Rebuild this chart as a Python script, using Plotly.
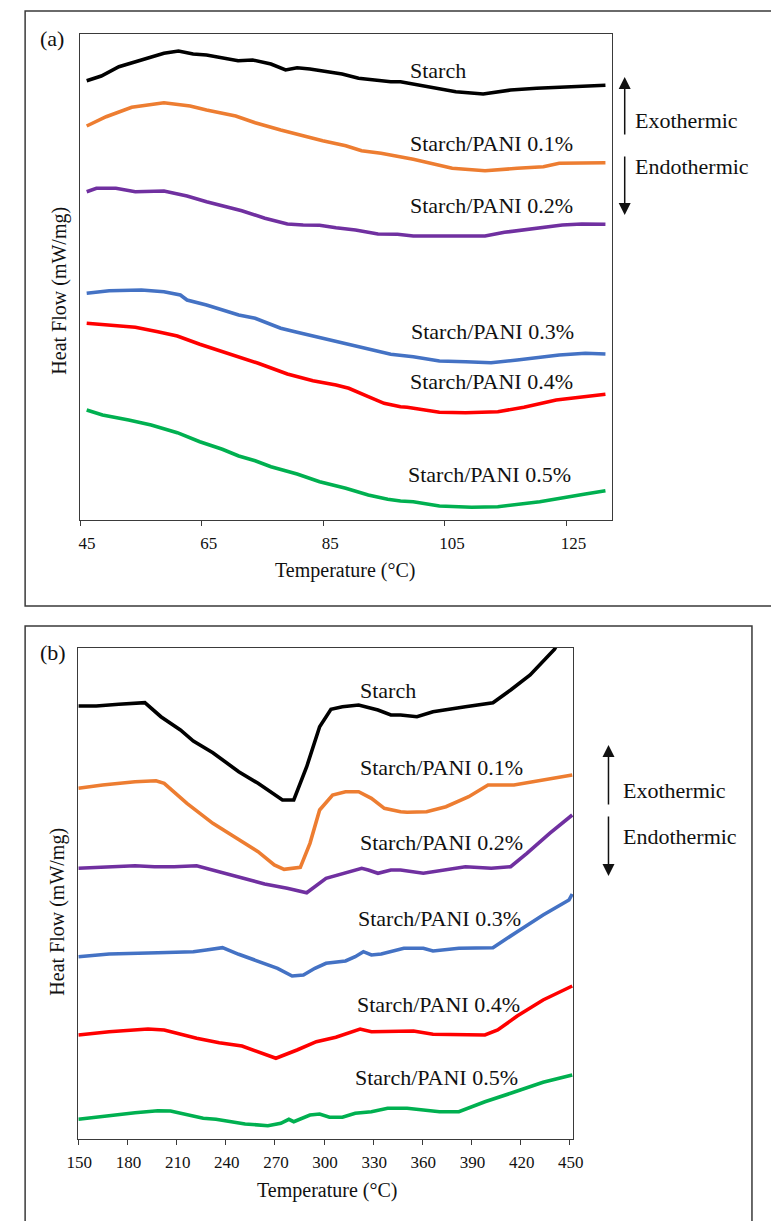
import plotly.graph_objects as go

# ---------------- DATA ----------------
# Panel (a): 45-132 °C  (heat flow in arbitrary, offset units)
a_starch_t = [46.1, 48.5, 51.4, 56.2, 58.8, 61.2, 63.6, 65.8, 69.0, 71.0, 73.4, 76.4, 78.8, 80.7, 82.8,
              85.5, 88.1, 90.8, 93.5, 96.1, 97.7, 103.0, 106.8, 111.3, 115.8, 120.1, 124.3, 127.5, 131.4]
a_starch_h = [43.93, 44.40, 45.33, 46.17, 46.67, 46.90, 46.60, 46.50, 46.10, 45.93, 46.00, 45.60, 45.00, 45.23, 45.10,
              44.80, 44.60, 44.17, 44.00, 43.83, 43.83, 43.27, 42.83, 42.60, 43.00, 43.17, 43.27, 43.40, 43.47]

a_p01_t = [46.1, 49.3, 53.5, 56.7, 58.8, 63.1, 65.8, 70.6, 73.8, 78.0, 81.2, 84.9, 88.7, 91.3, 94.5,
           97.2, 99.8, 106.2, 111.6, 116.9, 121.2, 123.8, 127.5, 131.4]
a_p01_h = [39.40, 40.33, 41.27, 41.60, 41.73, 41.40, 41.00, 40.40, 39.73, 39.00, 38.50, 37.93, 37.43, 36.93, 36.67,
           36.40, 36.07, 35.17, 34.93, 35.17, 35.33, 35.67, 35.67, 35.73]

a_p02_t = [46.1, 47.7, 50.9, 54.1, 58.8, 62.6, 65.8, 69.0, 71.6, 75.4, 79.1, 81.7, 84.4, 87.1, 90.3,
           94.0, 97.2, 99.8, 105.2, 111.6, 114.8, 119.0, 124.3, 127.5, 131.4]
a_p02_h = [32.83, 33.17, 33.17, 32.83, 32.90, 32.40, 31.83, 31.33, 30.93, 30.17, 29.60, 29.50, 29.47, 29.23, 29.00,
           28.60, 28.57, 28.40, 28.40, 28.40, 28.77, 29.07, 29.50, 29.60, 29.57]

a_p03_t = [46.1, 49.8, 55.1, 58.8, 61.5, 62.6, 65.8, 68.4, 71.1, 73.8, 78.0, 80.7, 84.9, 88.7, 92.4,
           96.1, 99.8, 104.1, 108.4, 112.6, 116.9, 120.6, 123.8, 128.1, 131.4]
a_p03_h = [22.67, 22.93, 23.00, 22.83, 22.50, 22.00, 21.50, 21.00, 20.50, 20.17, 19.17, 18.77, 18.17, 17.67, 17.10,
           16.57, 16.33, 15.90, 15.83, 15.73, 16.00, 16.27, 16.50, 16.67, 16.60]

a_p04_t = [46.1, 49.8, 54.1, 57.8, 61.0, 64.7, 68.4, 71.1, 74.3, 79.1, 83.3, 87.1, 89.2, 92.4, 95.0,
           97.7, 98.8, 104.1, 108.4, 113.7, 118.0, 123.3, 127.5, 131.4]
a_p04_h = [19.67, 19.50, 19.27, 18.83, 18.40, 17.57, 16.83, 16.27, 15.67, 14.60, 13.93, 13.50, 13.17, 12.33, 11.67,
           11.33, 11.27, 10.77, 10.73, 10.83, 11.27, 12.00, 12.33, 12.57]

a_p05_t = [46.1, 48.7, 53.0, 56.7, 61.0, 64.7, 68.4, 71.1, 73.8, 76.4, 80.7, 84.4, 88.7, 92.4, 95.6,
           97.7, 99.8, 104.1, 109.4, 113.7, 120.6, 124.3, 128.1, 131.4]
a_p05_h = [11.00, 10.50, 10.00, 9.50, 8.73, 7.83, 7.07, 6.40, 5.93, 5.33, 4.60, 3.83, 3.17, 2.50, 2.07,
           1.90, 1.83, 1.40, 1.27, 1.33, 1.83, 2.17, 2.60, 2.93]

# Panel (b): 150-452 °C
b_starch_t = [150.0, 160.9, 174.7, 190.6, 200.4, 212.3, 220.2, 232.1, 247.9, 259.7, 274.6, 281.5, 289.4, 297.3,
              304.2, 311.2, 321.1, 332.9, 340.8, 346.7, 356.7, 366.5, 386.3, 403.1, 413.9, 425.8, 440.7, 443.6]
b_starch_h = [43.30, 43.30, 43.47, 43.63, 42.23, 40.90, 39.80, 38.63, 36.73, 35.57, 33.90, 33.90, 37.23, 41.23,
              42.97, 43.23, 43.40, 42.90, 42.40, 42.40, 42.23, 42.73, 43.23, 43.63, 44.90, 46.40, 48.97, 49.90]

b_p01_t = [150.0, 164.8, 184.6, 197.4, 202.4, 216.3, 232.1, 247.9, 259.7, 269.6, 275.6, 285.5, 291.4, 297.3,
           305.2, 313.1, 321.1, 328.9, 336.8, 346.7, 350.7, 362.6, 374.4, 388.3, 400.1, 415.9, 427.8, 437.7, 451.5]
b_p01_h = [35.07, 35.40, 35.73, 35.83, 35.57, 33.57, 31.57, 29.90, 28.73, 27.40, 26.97, 27.17, 29.57, 32.90,
           34.40, 34.73, 34.73, 34.07, 33.07, 32.73, 32.67, 32.73, 33.23, 34.23, 35.40, 35.40, 35.73, 36.07, 36.40]

b_p02_t = [150.0, 168.8, 184.6, 196.5, 208.4, 222.2, 232.1, 247.9, 263.7, 277.5, 289.4, 301.2, 313.1, 323.0,
           327.0, 332.9, 340.8, 346.7, 360.6, 374.4, 386.3, 402.1, 413.9, 423.8, 437.7, 451.5]
b_p02_h = [27.07, 27.17, 27.33, 27.23, 27.23, 27.33, 26.90, 26.23, 25.50, 25.07, 24.63, 26.07, 26.57, 27.07,
           26.90, 26.57, 26.90, 26.90, 26.57, 26.97, 27.23, 27.07, 27.23, 28.57, 30.57, 32.40]

b_p03_t = [150.0, 168.8, 198.5, 220.2, 228.1, 238.0, 247.9, 261.7, 271.6, 280.5, 287.4, 294.4, 301.2, 313.1,
           319.0, 324.0, 328.9, 334.9, 344.8, 348.7, 360.6, 366.5, 382.3, 403.1, 417.9, 433.7, 449.5, 451.5]
b_p03_h = [18.23, 18.50, 18.63, 18.73, 18.90, 19.13, 18.47, 17.63, 17.07, 16.30, 16.40, 17.07, 17.57, 17.80,
           18.23, 18.73, 18.40, 18.50, 18.97, 19.07, 19.07, 18.80, 19.07, 19.13, 20.73, 22.40, 23.90, 24.50]

b_p04_t = [150.0, 168.8, 192.5, 202.4, 222.2, 236.0, 249.9, 261.7, 270.6, 283.5, 295.3, 307.2, 317.1, 322.0,
           328.9, 346.7, 354.6, 366.5, 382.3, 398.2, 406.0, 417.9, 433.7, 451.5]
b_p04_h = [10.40, 10.73, 11.00, 10.90, 10.07, 9.63, 9.30, 8.57, 8.07, 8.90, 9.73, 10.17, 10.73, 11.00,
           10.73, 10.83, 10.80, 10.47, 10.40, 10.40, 10.90, 12.30, 13.90, 15.30]

b_p05_t = [150.0, 166.8, 184.6, 198.5, 206.3, 226.2, 234.0, 251.8, 265.7, 273.6, 278.5, 281.5, 291.4, 297.3,
           303.3, 311.2, 319.0, 328.9, 338.8, 350.7, 360.6, 370.5, 382.3, 398.2, 413.9, 433.7, 451.5]
b_p05_h = [1.97, 2.30, 2.63, 2.83, 2.80, 2.07, 1.97, 1.50, 1.33, 1.57, 1.97, 1.73, 2.40, 2.50,
           2.17, 2.17, 2.57, 2.73, 3.07, 3.07, 2.90, 2.73, 2.73, 3.73, 4.57, 5.67, 6.40]

series_names = ["Starch", "Starch/PANI 0.1%", "Starch/PANI 0.2%",
                "Starch/PANI 0.3%", "Starch/PANI 0.4%", "Starch/PANI 0.5%"]
series_colors = ["#000000", "#ED7D31", "#7030A0", "#4472C4", "#FF0000", "#00B050"]

x_title = "Temperature (°C)"
y_title = "Heat Flow (mW/mg)"
panel_tags = ["(a)", "(b)"]
exo_txt, endo_txt = "Exothermic", "Endothermic"

# ---------------- FIGURE ----------------
W, H = 771, 1221
FONT = "Liberation Serif"
AX = "#3a3a3a"
TXT = "#111111"


def px(x):
    return x / W


def py(y):
    return 1 - y / H


fig = go.Figure()

panel_a = [(a_starch_t, a_starch_h), (a_p01_t, a_p01_h), (a_p02_t, a_p02_h),
           (a_p03_t, a_p03_h), (a_p04_t, a_p04_h), (a_p05_t, a_p05_h)]
panel_b = [(b_starch_t, b_starch_h), (b_p01_t, b_p01_h), (b_p02_t, b_p02_h),
           (b_p03_t, b_p03_h), (b_p04_t, b_p04_h), (b_p05_t, b_p05_h)]

for (t, h), name, col in zip(panel_a, series_names, series_colors):
    fig.add_trace(go.Scatter(x=t, y=h, mode="lines", name=name,
                             line=dict(color=col, width=3.6), xaxis="x", yaxis="y"))
for (t, h), name, col in zip(panel_b, series_names, series_colors):
    fig.add_trace(go.Scatter(x=t, y=h, mode="lines", name=name,
                             line=dict(color=col, width=3.6), xaxis="x2", yaxis="y2"))

xcommon = dict(ticks="outside", ticklen=5, tickwidth=1, tickcolor=AX, showline=True, linecolor=AX,
               linewidth=1, mirror=True, showgrid=False, zeroline=False, ticklabelstandoff=3,
               tickfont=dict(family=FONT, size=17, color=TXT))
ycommon = dict(showticklabels=False, ticks="", showline=True, linecolor=AX, linewidth=1,
               mirror=True, showgrid=False, zeroline=False)

fig.update_layout(
    width=W, height=H, margin=dict(l=0, r=0, t=0, b=0),
    paper_bgcolor="white", plot_bgcolor="white", showlegend=False,
    xaxis=dict(domain=[px(70), px(617.7)], range=[45, 132.49], tick0=45, dtick=20, anchor="y",
               ticklabelshift=7, **xcommon),
    yaxis=dict(domain=[py(520), py(33.5)], range=[0, 48.65], anchor="x", **ycommon),
    xaxis2=dict(domain=[px(68.3), px(577.7)], range=[150, 452.1], tick0=150, dtick=30, anchor="y2",
                ticklabelshift=1, **xcommon),
    yaxis2=dict(domain=[py(1139), py(648)], range=[0, 49.1], anchor="x2", **ycommon),
)

# outer panel frames
fig.add_shape(type="rect", xref="paper", yref="paper", x0=px(13.5), x1=px(790), y0=py(606), y1=py(11),
              line=dict(color="#3a3a3a", width=1.5), fillcolor="rgba(0,0,0,0)", layer="below")
fig.add_shape(type="rect", xref="paper", yref="paper", x0=px(13.5), x1=px(761.7), y0=py(1240), y1=py(626),
              line=dict(color="#3a3a3a", width=1.5), fillcolor="rgba(0,0,0,0)", layer="below")

ann = []


def label(text, x, y, size=22, anchor="left", angle=0):
    ann.append(dict(text=text, x=px(x), y=py(y), xref="paper", yref="paper", showarrow=False,
                    xanchor=anchor, yanchor="middle", textangle=angle,
                    font=dict(family=FONT, size=size, color=TXT)))


# curve labels
a_lab_pos = [(408, 70), (408, 143), (408, 205), (409, 331), (408, 381), (406, 474)]
b_lab_pos = [(356, 690), (356, 767), (356, 842), (354, 918), (353, 1004), (351, 1077)]
for name, (x, y) in zip(series_names, a_lab_pos):
    label(name, x, y)
for name, (x, y) in zip(series_names, b_lab_pos):
    label(name, x, y)

# panel tags
label(panel_tags[0], 27, 38)
label(panel_tags[1], 27, 652)

# axis titles
label(x_title, 343, 570, size=20, anchor="center")
label(x_title, 324, 1190, size=20, anchor="center")
label(y_title, 48, 291, size=20, anchor="center", angle=-90)
label(y_title, 46, 912, size=20, anchor="center", angle=-90)

# exo/endo text
label(exo_txt, 639, 121)
label(endo_txt, 639, 167)
label(exo_txt, 627, 790)
label(endo_txt, 627, 837)


def arrow(x, y_tip, y_tail):
    ann.append(dict(text="", x=px(x), y=py(y_tip), xref="paper", yref="paper", showarrow=True,
                    ax=0, ay=y_tail - y_tip, axref="pixel", ayref="pixel",
                    arrowhead=2, arrowsize=1.6, arrowwidth=1.5, arrowcolor=TXT, standoff=0,
                    startstandoff=0))


arrow(630.7, 77, 136)
arrow(630.7, 215, 155)
arrow(614, 745, 806)
arrow(614, 876, 815)

fig.update_layout(annotations=ann)

fig.write_html("out.html")
